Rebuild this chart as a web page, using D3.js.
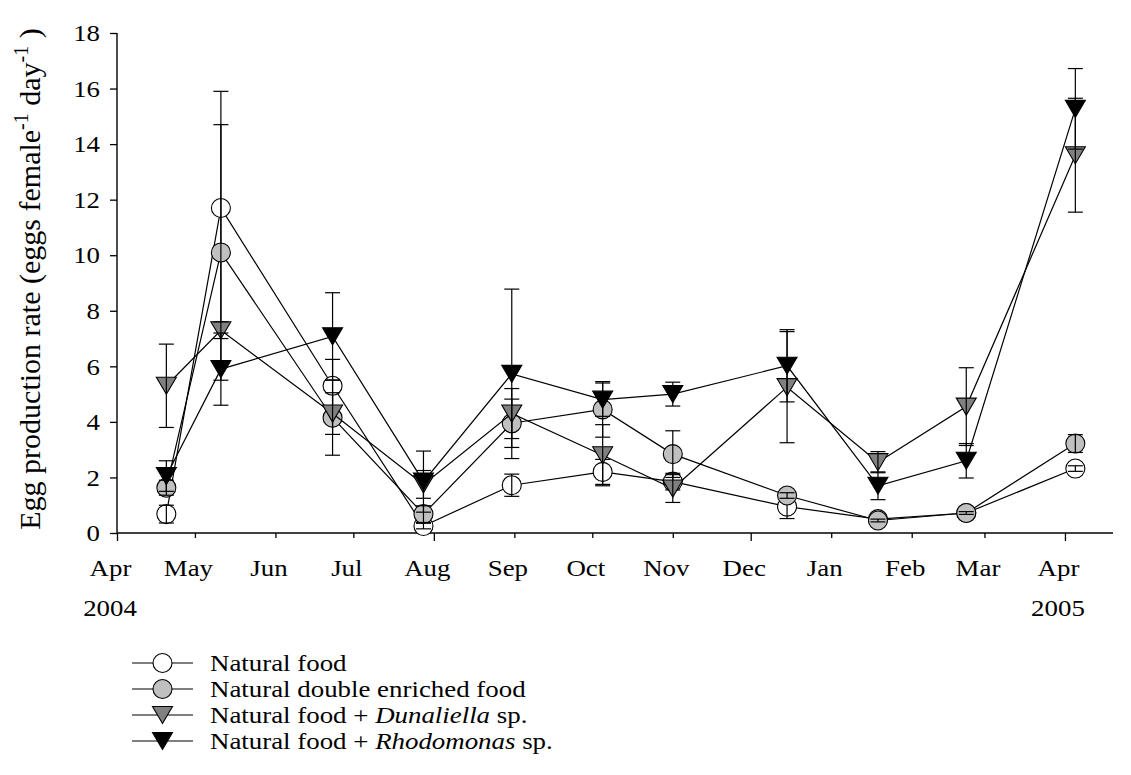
<!DOCTYPE html>
<html><head><meta charset="utf-8">
<script src="https://cdn.jsdelivr.net/npm/d3@7"></script>
<style>
body{margin:0;background:#fff}
svg{display:block}
text{font-family:"Liberation Serif","Times New Roman",serif;fill:#000}
</style>
</head><body>
<svg id="chart" width="1131" height="775"></svg>
<script>
// ---------- data ----------
const sampleDates = ["2004-04-20","2004-05-11","2004-06-23","2004-07-28","2004-08-31","2004-10-05","2004-11-01","2004-12-15","2005-01-19","2005-02-22","2005-04-05"];
const monthLabels = ["Apr","May","Jun","Jul","Aug","Sep","Oct","Nov","Dec","Jan","Feb","Mar","Apr"];
const yearLabels = ["2004","2005"];
const yTickValues = [0,2,4,6,8,10,12,14,16,18];
const seriesNames = ["Natural food","Natural double enriched food","Natural food + |Dunaliella| sp.","Natural food + |Rhodomonas| sp."];

const naturalMean   = [0.68, 11.7, 5.3, 0.25, 1.72, 2.2, 1.85, 0.95, 0.5, 0.72, 2.32];
const naturalErr    = [0.32, 4.2, 0.95, 0.1, 0.4, 0.45, 0.3, 0.43, 0.05, 0.05, 0.1];
const doubleMean    = [1.63, 10.1, 4.15, 0.68, 3.95, 4.45, 2.84, 1.35, 0.45, 0.72, 3.22];
const doubleErr     = [0.27, 4.6, 1.35, 0.3, 0.87, 1.0, 0.84, 0.1, 0.05, 0.05, 0.32];
const dunaliellaMean= [5.3, 7.3, 4.3, 1.75, 4.3, 2.8, 1.6, 5.25, 2.55, 4.55, 13.6];
const dunaliellaErr = [1.5, 0.3, 0.75, 0.5, 0.9, 1.1, 0.5, 2.0, 0.38, 1.4, 2.05];
const rhodoMean     = [2.05, 5.9, 7.08, 1.85, 5.73, 4.8, 5.0, 6.02, 1.7, 2.6, 15.27];
const rhodoErr      = [0.55, 1.3, 1.57, 1.1, 3.05, 0.6, 0.43, 1.3, 0.5, 0.62, 1.45];

const seriesShapes = ["circle","circle","triangle","triangle"];
const seriesFills  = ["#ffffff","#c0c0c0","#808080","#000000"];

// ---------- setup ----------
const parse = d3.timeParse("%Y-%m-%d");
const dates = sampleDates.map(parse);
const series = [
  {name: seriesNames[0], mean: naturalMean, err: naturalErr},
  {name: seriesNames[1], mean: doubleMean, err: doubleErr},
  {name: seriesNames[2], mean: dunaliellaMean, err: dunaliellaErr},
  {name: seriesNames[3], mean: rhodoMean, err: rhodoErr}
].map((s,i)=>({...s, shape: seriesShapes[i], fill: seriesFills[i],
  pts: s.mean.map((v,j)=>({date: dates[j], v, e: s.err[j]}))}));

const svg = d3.select("#chart");
const x = d3.scaleTime().domain([new Date(2004,3,1), new Date(2005,3,19,12)]).range([117,1113]);
const y = d3.scaleLinear().domain([0,18]).range([533,33]);

const FF = "Liberation Serif, Times New Roman, serif";
const FONT = 24, SX = 1.12;

// y axis
const yAxis = svg.append("g").attr("transform","translate(117,0)")
  .call(d3.axisLeft(y).tickValues(yTickValues).tickSize(7).tickPadding(10).tickFormat(d3.format("d")));
yAxis.attr("font-family",FF);
yAxis.select(".domain").attr("stroke","#000").attr("stroke-width",1.4).attr("d","M0,"+y(0)+"V"+y(18));
yAxis.selectAll(".tick line").attr("stroke","#000").attr("stroke-width",1.3);
yAxis.selectAll(".tick text").attr("font-size",FONT).attr("font-family",FF)
  .attr("x",-17/SX).attr("transform","scale("+SX+",1)");

// x axis
const monthTicks = d3.timeMonth.range(new Date(2004,3,1), new Date(2005,3,2));
const xAxis = svg.append("g").attr("transform","translate(0,533)")
  .call(d3.axisBottom(x).tickValues(monthTicks).tickSize(5).tickPadding(21)
    .tickFormat((d,i)=>monthLabels[i]));
xAxis.attr("font-family",FF);
xAxis.select(".domain").attr("stroke","#000").attr("stroke-width",1.4).attr("d","M"+x.range()[0]+",0H"+x.range()[1]);
xAxis.selectAll(".tick line").attr("stroke","#000").attr("stroke-width",1.3)
  .attr("y2",(d,i)=> (i%4===0) ? 8 : 5);
xAxis.selectAll(".tick text").attr("font-size",FONT).attr("font-family",FF)
  .attr("x",-7/SX).attr("transform","scale("+SX+",1)");
// year labels under April ticks
const aprTicks = monthTicks.filter(d=>d.getMonth()===3);
xAxis.selectAll(".year").data(aprTicks).enter().append("text").attr("class","year")
  .attr("font-size",FONT).attr("font-family",FF).attr("text-anchor","middle")
  .attr("transform",d=>"translate("+(x(d)-7)+",0) scale("+SX+",1)")
  .attr("y",83).text((d,i)=>yearLabels[i]);

// y title
const title = svg.append("text").attr("font-size",30).attr("font-family",FF).attr("text-anchor","middle")
  .attr("transform","translate(40,279) rotate(-90)");
title.append("tspan").text("Egg production rate (eggs female");
title.append("tspan").attr("font-size",20).attr("dy",-12).text("-1");
title.append("tspan").attr("dy",12).text(" day");
title.append("tspan").attr("font-size",20).attr("dy",-12).text("-1");
title.append("tspan").attr("dy",12).text(" )");

// symbols
function symPath(shape){
  if(shape==="circle") return d3.symbol(d3.symbolCircle, Math.PI*9.5*9.5)();
  return "M-10,-8.5L10,-8.5L0,8.5Z";
}
const line = d3.line().x(d=>x(d.date)).y(d=>y(d.v));
const cap = 7.5;

series.forEach(s=>{
  const g = svg.append("g");
  g.append("path").attr("d",line(s.pts)).attr("fill","none").attr("stroke","#000").attr("stroke-width",1.2);
  g.selectAll(".sym").data(s.pts).enter().append("path")
    .attr("d",symPath(s.shape))
    .attr("transform",d=>"translate("+x(d.date)+","+y(d.v)+")")
    .attr("fill",s.fill).attr("stroke","#000").attr("stroke-width",1.1);
  const eb = g.selectAll(".eb").data(s.pts).enter().append("g");
  eb.append("line").attr("x1",d=>x(d.date)).attr("x2",d=>x(d.date))
    .attr("y1",d=>y(d.v-d.e)).attr("y2",d=>y(d.v+d.e));
  eb.append("line").attr("x1",d=>x(d.date)-cap).attr("x2",d=>x(d.date)+cap)
    .attr("y1",d=>y(d.v+d.e)).attr("y2",d=>y(d.v+d.e));
  eb.append("line").attr("x1",d=>x(d.date)-cap).attr("x2",d=>x(d.date)+cap)
    .attr("y1",d=>y(d.v-d.e)).attr("y2",d=>y(d.v-d.e));
  eb.selectAll("line").attr("stroke","#000").attr("stroke-width",1.2);
});

// legend
const legY = [663,689,715,741];
const leg = svg.append("g");
series.forEach((s,i)=>{
  const r = leg.append("g").attr("transform","translate(0,"+legY[i]+")");
  r.append("line").attr("x1",132).attr("x2",193).attr("y1",0).attr("y2",0).attr("stroke","#000").attr("stroke-width",1.2);
  r.append("path").attr("d",symPath(s.shape)).attr("transform","translate(162.5,0)")
    .attr("fill",s.fill).attr("stroke","#000").attr("stroke-width",1.1);
  const t = r.append("text").attr("font-size",FONT).attr("font-family",FF).attr("dy","0.35em")
    .attr("transform","translate(210,0) scale("+SX+",1)");
  s.name.split("|").forEach((part,k)=>{
    t.append("tspan").attr("font-style",k%2===1?"italic":null).text(part);
  });
});
</script>
</body></html>
